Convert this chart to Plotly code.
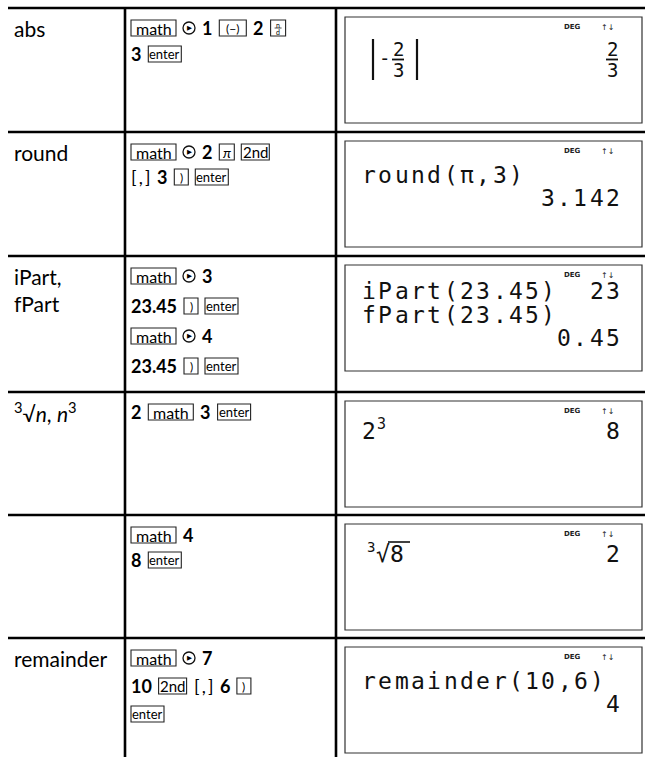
import plotly.graph_objects as go

# column 1: function names (one list per table row, one string per text line)
func_names = [["abs"], ["round"], ["iPart,", "fPart"],
              ["<sup>3</sup>√<i>n</i>, <i>n</i><sup>3</sup>"], [], ["remainder"]]

# column 2: keystrokes. [key] = key cap, > = circled right arrow, {,} = [,] bracket
key_seqs = [
    ["[math] > 1 [(−)] 2 [n/d]", "3 [enter]"],
    ["[math] > 2 [π] [2nd]", "{,} 3 [)] [enter]"],
    ["[math] > 3", "23.45 [)] [enter]", "[math] > 4", "23.45 [)] [enter]"],
    ["2 [math] 3 [enter]"],
    ["[math] 4", "8 [enter]"],
    ["[math] > 7", "10 [2nd] {,} 6 [)]", "[enter]"],
]

# column 3: what the calculator screen shows, (screen line, text)
screen_left = [[], [(0, "round(π,3)")], [(0, "iPart(23.45)"), (1, "fPart(23.45)")],
               [(0, "2")], [], [(0, "remainder(10,6)")]]
screen_right = [[], [(1, "3.142")], [(0, "23"), (2, "0.45")],
                [(0, "8")], [(0, "2")], [(1, "4")]]
frac_num, frac_den = "2", "3"      # |-2/3| = 2/3
power_exp = "3"                    # 2^3
root_idx, root_arg = "3", "8"      # cube root of 8

# layout of the table
row_tops = [8, 132, 256, 392, 515, 638]
col_lines = [125, 336]
key_gap = [26, 25, 30, 0, 25, 28]
screen_line_y = [[42], [34, 57], [26, 50, 73], [30], [30], [34, 57]]

KEY_W = {"math": 45, "enter": 33, "2nd": 28, "π": 15, ")": 14, "(−)": 27, "n/d": 15}
KEY_FS = {"math": 16, "enter": 13, "2nd": 15, "π": 14, ")": 12, "(−)": 12, "n/d": 7}
ADV = 16.3
LCD = "DejaVu Sans Mono"
LCD_FS = 23
TXT = "Lato"

shapes = []
anns = []


def line(x0, y0, x1, y1, w=1.0, c="#222"):
    shapes.append(dict(type="line", x0=x0, x1=x1, y0=y0, y1=y1,
                       line=dict(color=c, width=w)))


def text(x, y, s, size, font=TXT, anchor="left", bold=False, color="black"):
    anns.append(dict(x=x, y=y, text=("<b>%s</b>" % s) if bold else s, showarrow=False,
                     xanchor=anchor, yanchor="middle", borderpad=0,
                     font=dict(family=font, size=size, color=color)))


def bold_w(s):
    return sum(4.8 if ch == "." else 10.3 for ch in s)


def draw_keys(lines, top, gap):
    for i, ln in enumerate(lines):
        y = top + 20 + i * gap
        x = 131
        for tok in ln.split(" "):
            if tok == ">":
                shapes.append(dict(type="circle", x0=x, x1=x + 12, y0=y - 6, y1=y + 6,
                                   line=dict(color="#111", width=1.3)))
                text(x + 6.6, y, "▶", 6.5, font="DejaVu Sans", anchor="center")
                x += 12
            elif tok.startswith("["):
                name = tok[1:-1]
                w = KEY_W[name]
                shapes.append(dict(type="rect", x0=x, x1=x + w, y0=y - 8, y1=y + 8,
                                   line=dict(color="#222", width=1.1)))
                if name == "n/d":
                    text(x + w / 2, y - 3.5, "n", 7, anchor="center")
                    line(x + 4, y, x + w - 4, y, 0.8)
                    text(x + w / 2, y + 4, "d", 7, anchor="center")
                else:
                    lbl = "<i>π</i>" if name == "π" else name
                    text(x + w / 2, y, lbl, KEY_FS[name], anchor="center")
                x += w
            elif tok == "{,}":
                text(x - 1, y, "[\u2009,\u2009]", 18)
                x += 19
            else:
                text(x - 1, y, tok, 18, bold=True)
                x += bold_w(tok)
            x += 7


def lcd(s, x0, y, size=LCD_FS):
    for i, ch in enumerate(s):
        text(x0 + (i + 0.5) * ADV, y, ch, size, font=LCD, anchor="center", color="#111")


def lcd_frac(fx, yc):
    text(fx, yc - 10, frac_num, 19, font=LCD, anchor="center", color="#111")
    line(fx - 6, yc + 0.5, fx + 6, yc + 0.5, 1.8, "#111")
    text(fx, yc + 11, frac_den, 19, font=LCD, anchor="center", color="#111")


# table grid
for y in row_tops:
    line(8, y, 645, y, 2.6, "black")
for x in col_lines:
    line(x, row_tops[0], x, 757, 2.6, "black")

for r, top in enumerate(row_tops):
    # function name
    for i, name in enumerate(func_names[r]):
        text(13, top + 20 + i * 27, name, 21)
    # keystrokes
    draw_keys(key_seqs[r], top, key_gap[r])
    # screen
    bt = top + 9
    shapes.append(dict(type="rect", x0=345, x1=642, y0=bt, y1=bt + 106,
                       line=dict(color="#333", width=1.2)))
    text(572, bt + 10, "<b>DEG</b>", 7, font="DejaVu Sans", anchor="center", color="#222")
    text(607, bt + 10, "↑↓", 8, font="DejaVu Sans", anchor="center", color="#222")
    ly = screen_line_y[r]
    for li, s in screen_left[r]:
        lcd(s, 361, bt + ly[li])
    for li, s in screen_right[r]:
        lcd(s, 621 - len(s) * ADV, bt + ly[li])

    if r == 0:
        yc = bt + ly[0]
        # absolute value bars
        line(373, yc - 20, 373, yc + 21, 2.2, "#111")
        line(417, yc - 20, 417, yc + 21, 2.2, "#111")
        text(384, yc - 1, "-", 19, font=LCD, anchor="center", color="#111")
        lcd_frac(398, yc)
        lcd_frac(612, yc)
    if r == 3:
        yc = bt + ly[0]
        text(381, yc - 7, power_exp, 15, font=LCD, anchor="center", color="#111")
    if r == 4:
        yc = bt + ly[0]
        text(371, yc - 7, root_idx, 14, font=LCD, anchor="center", color="#111")
        text(383, yc, "√", LCD_FS, font=LCD, anchor="center", color="#111")
        lcd(root_arg, 389, yc)
        line(388, yc - 12, 410, yc - 12, 1.6, "#111")

fig = go.Figure()
fig.update_layout(
    width=645, height=757, autosize=False,
    margin=dict(l=0, r=0, t=0, b=0),
    paper_bgcolor="white", plot_bgcolor="white",
    xaxis=dict(range=[0, 645], visible=False, fixedrange=True),
    yaxis=dict(range=[757, 0], visible=False, fixedrange=True),
    shapes=shapes, annotations=anns, showlegend=False,
)
fig.write_html("out.html", config={"displayModeBar": False},
               post_script="document.body.style.margin='0';")
